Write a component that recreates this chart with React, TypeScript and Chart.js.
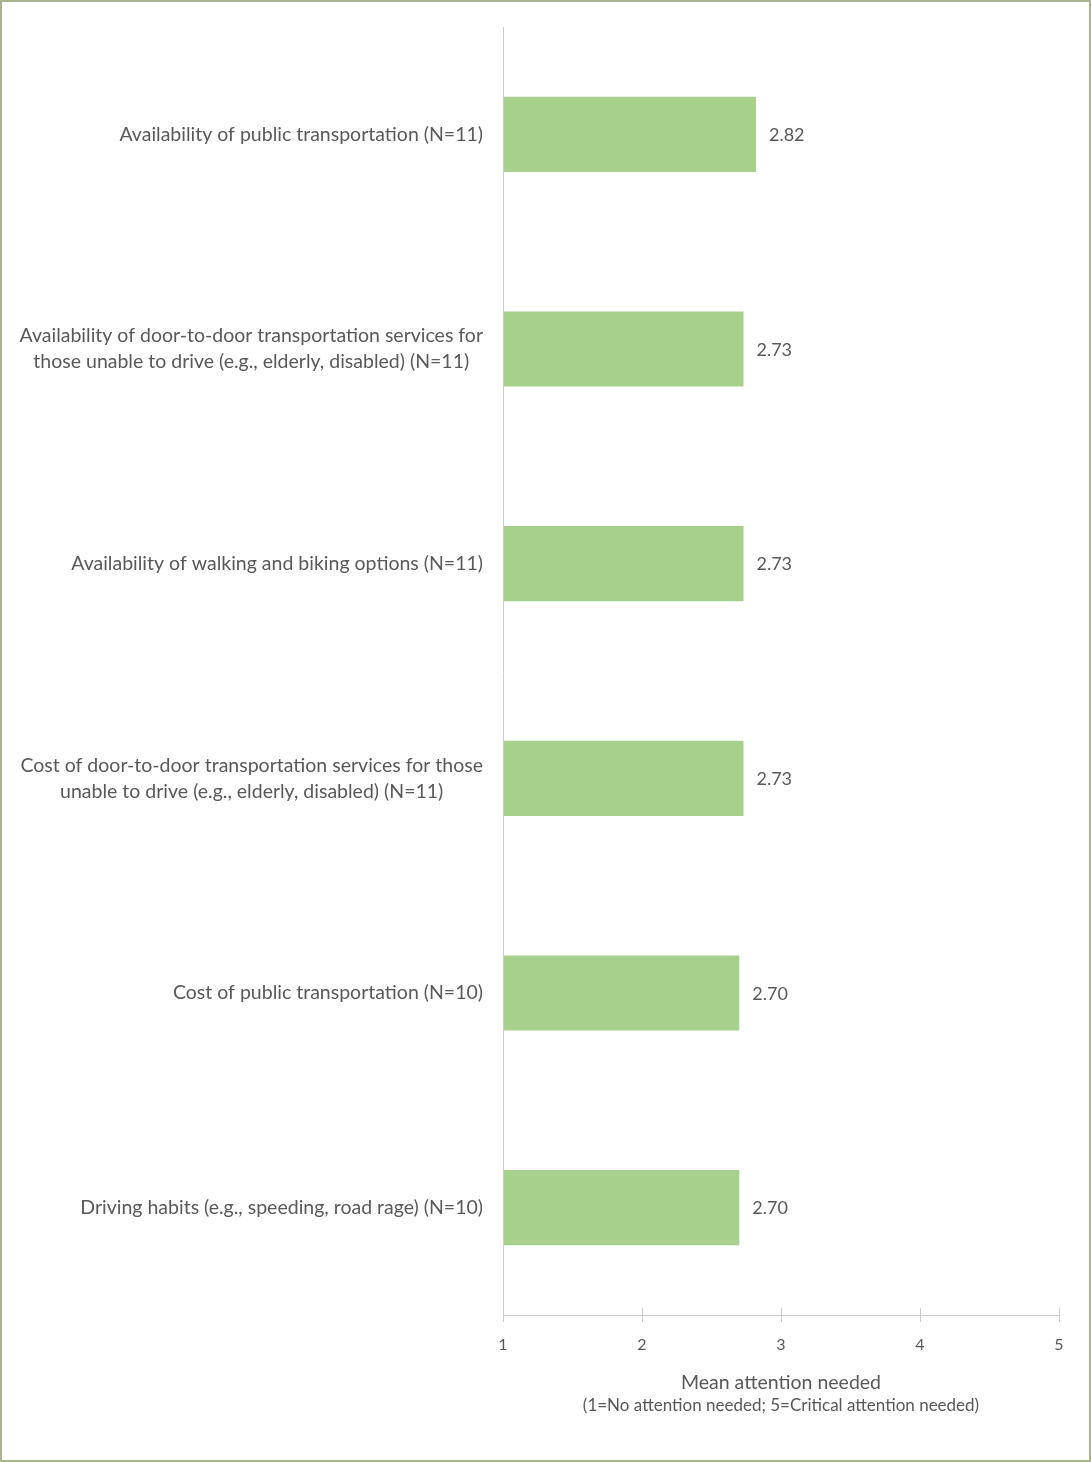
import React, { useEffect, useRef } from 'react';
import { Chart, registerables } from 'chart.js';
Chart.register(...registerables);

const categories: string[][] = [
  ['Availability of public transportation (N=11)'],
  ['Availability of door-to-door transportation services for', 'those unable to drive (e.g., elderly, disabled) (N=11)'],
  ['Availability of walking and biking options (N=11)'],
  ['Cost of door-to-door transportation services for those', 'unable to drive (e.g., elderly, disabled) (N=11)'],
  ['Cost of public transportation (N=10)'],
  ['Driving habits (e.g., speeding, road rage) (N=10)'],
];
const values = [2.82, 2.73, 2.73, 2.73, 2.7, 2.7];
const xTicks = [1, 2, 3, 4, 5];
const axisTitle = 'Mean attention needed';
const axisSubtitle = '(1=No attention needed; 5=Critical attention needed)';

const FONT = 'Lato';
const TEXT = '#595959';
const AXIS = '#cccccc';
const BAR = '#a6d08c';

const customPlugin = {
  id: 'custom',
  afterDraw(chart: any) {
    const { ctx, chartArea, scales } = chart;
    const x = scales.x;
    const y = scales.y;
    ctx.save();
    ctx.strokeStyle = AXIS;
    ctx.lineWidth = 1;
    ctx.beginPath();
    const x0 = Math.round(chartArea.left) + 0.5;
    ctx.moveTo(x0, chartArea.top);
    ctx.lineTo(x0, chartArea.bottom + 3);
    xTicks.forEach((t) => {
      const px = Math.round(x.getPixelForValue(t)) + 0.5;
      ctx.moveTo(px, chartArea.bottom - 7);
      ctx.lineTo(px, chartArea.bottom + 7);
    });
    ctx.stroke();

    ctx.fillStyle = TEXT;
    ctx.font = `19.5px ${FONT}`;
    ctx.textBaseline = 'middle';
    ctx.textAlign = 'center';
    const lineH = 26;
    categories.forEach((lines, i) => {
      const cy = y.getPixelForValue(i);
      const w = Math.max(...lines.map((l) => ctx.measureText(l).width));
      const cx = chartArea.left - 20 - w / 2;
      lines.forEach((l, j) => {
        ctx.fillText(l, cx, cy + (j - (lines.length - 1) / 2) * lineH);
      });
    });

    ctx.font = `18px ${FONT}`;
    ctx.textAlign = 'left';
    const meta = chart.getDatasetMeta(0);
    meta.data.forEach((bar: any, i: number) => {
      ctx.fillText(values[i].toFixed(2), bar.x + 13, bar.y + 1);
    });

    const mid = (chartArea.left + chartArea.right) / 2;
    ctx.textAlign = 'center';
    ctx.font = `19.5px ${FONT}`;
    ctx.fillText(axisTitle, mid, chartArea.bottom + 68);
    ctx.font = `17px ${FONT}`;
    ctx.fillText(axisSubtitle, mid, chartArea.bottom + 91);
    ctx.restore();
  },
};

export default function App() {
  const ref = useRef<HTMLCanvasElement>(null);
  useEffect(() => {
    if (!ref.current) return;
    const chart = new Chart(ref.current, {
      type: 'bar',
      data: {
        labels: categories.map((c) => c.join(' ')),
        datasets: [
          {
            data: values,
            backgroundColor: BAR,
            borderWidth: 0,
            base: 1,
            categoryPercentage: 1,
            barPercentage: 0.35,
          } as any,
        ],
      },
      options: {
        indexAxis: 'y',
        responsive: false,
        animation: false,
        devicePixelRatio: 1,
        layout: { padding: { left: 503, right: 32, top: 27, bottom: 107 } },
        plugins: { legend: { display: false }, tooltip: { enabled: false } },
        scales: {
          x: {
            min: 1,
            max: 5,
            ticks: {
              stepSize: 1,
              padding: 20,
              color: TEXT,
              font: { family: FONT, size: 16 },
            },
            grid: { display: false, drawTicks: false },
            border: { display: true, color: AXIS },
            afterFit: (s: any) => {
              s.height = 40;
            },
          },
          y: { display: false },
        },
      },
      plugins: [customPlugin],
    });
    return () => chart.destroy();
  }, []);
  return (
    <div style={{ position: 'fixed', left: 0, top: 0, width: 1091, height: 1462, background: '#fff' }}>
      <canvas ref={ref} width={1091} height={1462} style={{ position: 'absolute', left: 0, top: 0 }} />
      <div
        style={{
          position: 'absolute',
          left: 0,
          top: 0,
          width: 1091,
          height: 1462,
          boxSizing: 'border-box',
          border: '2px solid #a8b490',
          pointerEvents: 'none',
        }}
      />
    </div>
  );
}
